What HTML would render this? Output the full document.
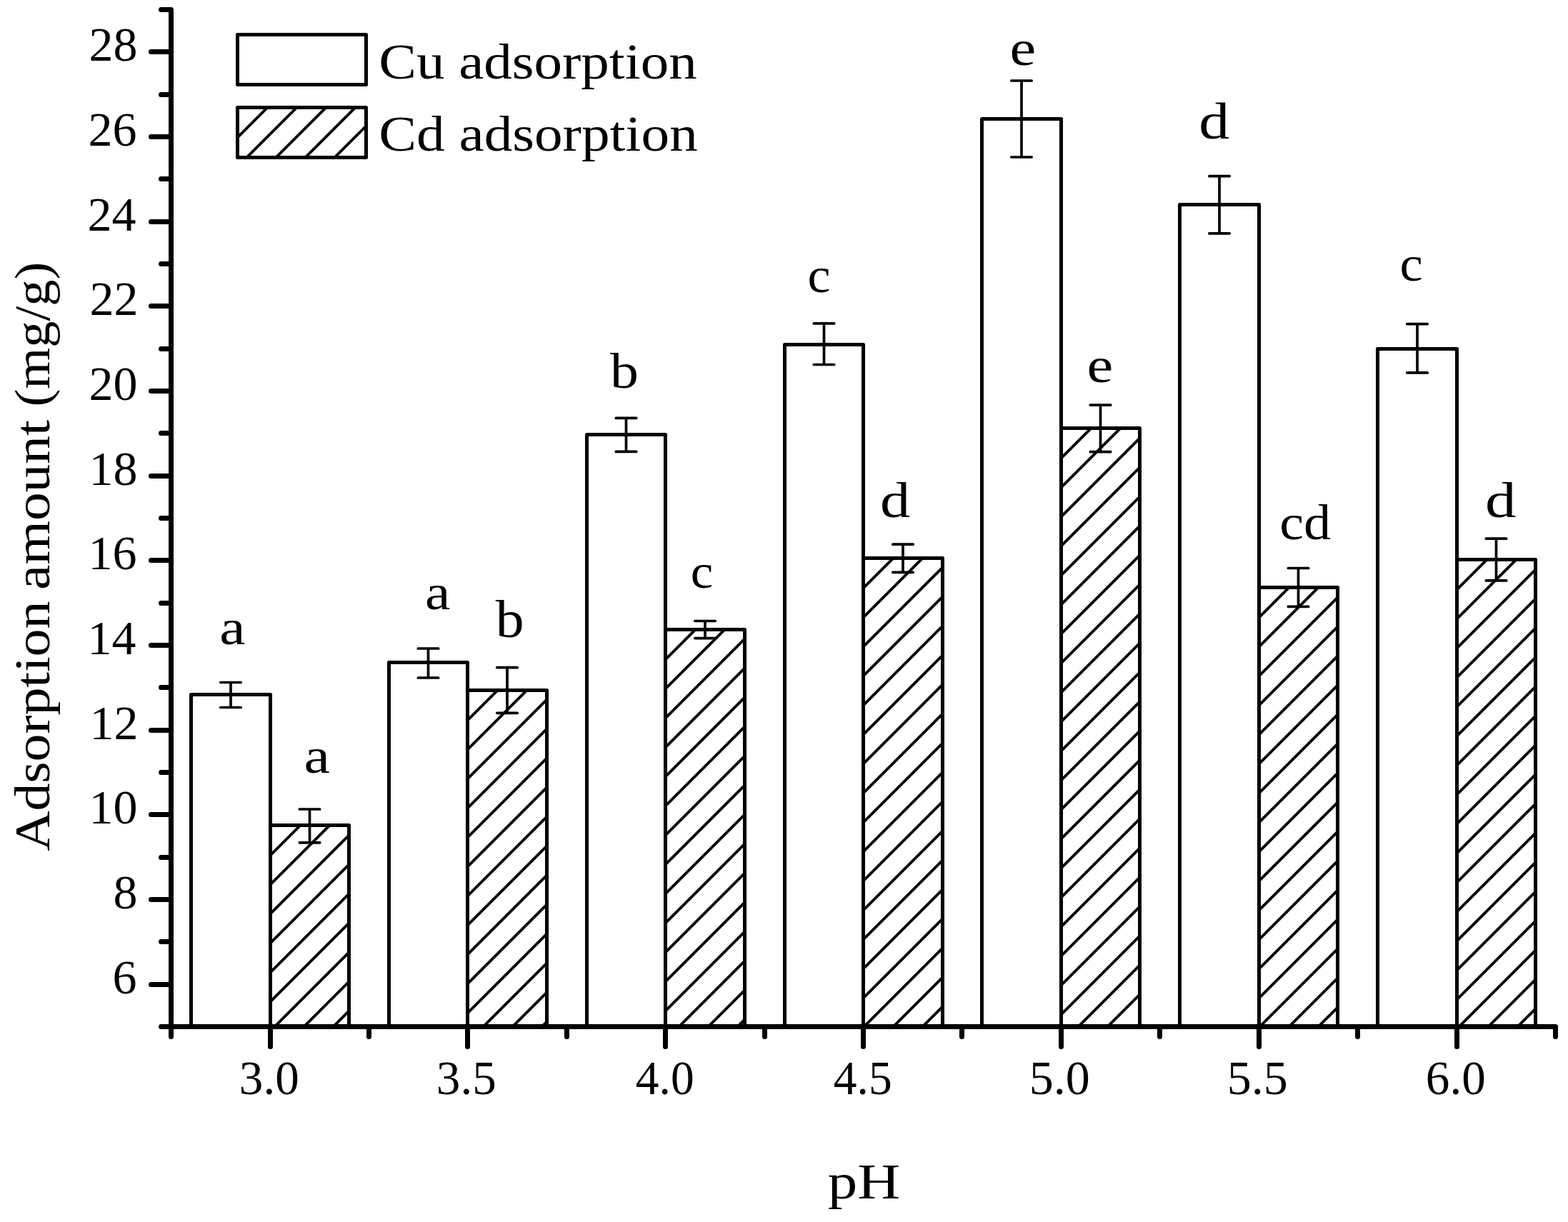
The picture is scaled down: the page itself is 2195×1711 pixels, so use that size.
<!DOCTYPE html>
<html lang="en">
<head>
<meta charset="utf-8">
<title>Cu and Cd adsorption amount versus pH</title>
<style>
html,body{margin:0;padding:0;background:#fff;}
body{width:2195px;height:1711px;overflow:hidden;}
svg{display:block;}
text{font-family:"Liberation Serif","DejaVu Serif",serif;fill:#000;}
.ax{stroke:#000;stroke-width:7;stroke-linecap:round;fill:none;}
.bar{stroke:#000;stroke-width:5;stroke-linejoin:round;}
.cu{fill:#fff;}
.hat{stroke:#000;stroke-width:3.9;fill:none;}
.err{stroke:#000;stroke-width:3.7;stroke-linecap:round;fill:none;}
</style>
</head>
<body>
<svg width="2195" height="1711" viewBox="0 0 2195 1711">
<rect x="0" y="0" width="2195" height="1711" fill="#fff"/>
<defs>
<clipPath id="h0"><rect x="378.50" y="1155.50" width="110.00" height="282.00"/></clipPath>
<clipPath id="h1"><rect x="654.50" y="966.50" width="111.00" height="471.00"/></clipPath>
<clipPath id="h2"><rect x="931.50" y="881.50" width="111.00" height="556.00"/></clipPath>
<clipPath id="h3"><rect x="1208.50" y="781.50" width="111.00" height="656.00"/></clipPath>
<clipPath id="h4"><rect x="1485.50" y="599.50" width="110.00" height="838.00"/></clipPath>
<clipPath id="h5"><rect x="1762.50" y="822.50" width="110.00" height="615.00"/></clipPath>
<clipPath id="h6"><rect x="2039.50" y="783.50" width="110.00" height="654.00"/></clipPath>
<clipPath id="h7"><rect x="332.50" y="150.50" width="180.00" height="70.00"/></clipPath>
</defs>
<g class="cu-bars">
<rect class="bar cu" x="267.50" y="972.50" width="111.00" height="465.00"/>
<rect class="bar cu" x="544.50" y="927.50" width="110.00" height="510.00"/>
<rect class="bar cu" x="821.50" y="608.50" width="110.00" height="829.00"/>
<rect class="bar cu" x="1098.50" y="482.50" width="110.00" height="955.00"/>
<rect class="bar cu" x="1374.50" y="166.50" width="111.00" height="1271.00"/>
<rect class="bar cu" x="1651.50" y="286.50" width="111.00" height="1151.00"/>
<rect class="bar cu" x="1928.50" y="488.50" width="111.00" height="949.00"/>
</g>
<g class="hat">
<path clip-path="url(#h0)" d="M372.50 1162.50L494.50 1040.50M372.50 1203.50L494.50 1081.50M372.50 1244.50L494.50 1122.50M372.50 1285.50L494.50 1163.50M372.50 1326.50L494.50 1204.50M372.50 1367.50L494.50 1245.50M372.50 1408.50L494.50 1286.50M372.50 1449.50L494.50 1327.50M372.50 1490.50L494.50 1368.50M372.50 1531.50L494.50 1409.50"/>
<path clip-path="url(#h1)" d="M648.50 973.50L771.50 850.50M648.50 1014.50L771.50 891.50M648.50 1055.50L771.50 932.50M648.50 1096.50L771.50 973.50M648.50 1137.50L771.50 1014.50M648.50 1178.50L771.50 1055.50M648.50 1219.50L771.50 1096.50M648.50 1260.50L771.50 1137.50M648.50 1301.50L771.50 1178.50M648.50 1342.50L771.50 1219.50M648.50 1383.50L771.50 1260.50M648.50 1424.50L771.50 1301.50M648.50 1465.50L771.50 1342.50M648.50 1506.50L771.50 1383.50M648.50 1547.50L771.50 1424.50"/>
<path clip-path="url(#h2)" d="M925.50 888.50L1048.50 765.50M925.50 929.50L1048.50 806.50M925.50 970.50L1048.50 847.50M925.50 1011.50L1048.50 888.50M925.50 1052.50L1048.50 929.50M925.50 1093.50L1048.50 970.50M925.50 1134.50L1048.50 1011.50M925.50 1175.50L1048.50 1052.50M925.50 1216.50L1048.50 1093.50M925.50 1257.50L1048.50 1134.50M925.50 1298.50L1048.50 1175.50M925.50 1339.50L1048.50 1216.50M925.50 1380.50L1048.50 1257.50M925.50 1421.50L1048.50 1298.50M925.50 1462.50L1048.50 1339.50M925.50 1503.50L1048.50 1380.50M925.50 1544.50L1048.50 1421.50"/>
<path clip-path="url(#h3)" d="M1202.50 788.50L1325.50 665.50M1202.50 829.50L1325.50 706.50M1202.50 870.50L1325.50 747.50M1202.50 911.50L1325.50 788.50M1202.50 952.50L1325.50 829.50M1202.50 993.50L1325.50 870.50M1202.50 1034.50L1325.50 911.50M1202.50 1075.50L1325.50 952.50M1202.50 1116.50L1325.50 993.50M1202.50 1157.50L1325.50 1034.50M1202.50 1198.50L1325.50 1075.50M1202.50 1239.50L1325.50 1116.50M1202.50 1280.50L1325.50 1157.50M1202.50 1321.50L1325.50 1198.50M1202.50 1362.50L1325.50 1239.50M1202.50 1403.50L1325.50 1280.50M1202.50 1444.50L1325.50 1321.50M1202.50 1485.50L1325.50 1362.50M1202.50 1526.50L1325.50 1403.50"/>
<path clip-path="url(#h4)" d="M1479.50 606.50L1601.50 484.50M1479.50 647.50L1601.50 525.50M1479.50 688.50L1601.50 566.50M1479.50 729.50L1601.50 607.50M1479.50 770.50L1601.50 648.50M1479.50 811.50L1601.50 689.50M1479.50 852.50L1601.50 730.50M1479.50 893.50L1601.50 771.50M1479.50 934.50L1601.50 812.50M1479.50 975.50L1601.50 853.50M1479.50 1016.50L1601.50 894.50M1479.50 1057.50L1601.50 935.50M1479.50 1098.50L1601.50 976.50M1479.50 1139.50L1601.50 1017.50M1479.50 1180.50L1601.50 1058.50M1479.50 1221.50L1601.50 1099.50M1479.50 1262.50L1601.50 1140.50M1479.50 1303.50L1601.50 1181.50M1479.50 1344.50L1601.50 1222.50M1479.50 1385.50L1601.50 1263.50M1479.50 1426.50L1601.50 1304.50M1479.50 1467.50L1601.50 1345.50M1479.50 1508.50L1601.50 1386.50M1479.50 1549.50L1601.50 1427.50"/>
<path clip-path="url(#h5)" d="M1756.50 829.50L1878.50 707.50M1756.50 870.50L1878.50 748.50M1756.50 911.50L1878.50 789.50M1756.50 952.50L1878.50 830.50M1756.50 993.50L1878.50 871.50M1756.50 1034.50L1878.50 912.50M1756.50 1075.50L1878.50 953.50M1756.50 1116.50L1878.50 994.50M1756.50 1157.50L1878.50 1035.50M1756.50 1198.50L1878.50 1076.50M1756.50 1239.50L1878.50 1117.50M1756.50 1280.50L1878.50 1158.50M1756.50 1321.50L1878.50 1199.50M1756.50 1362.50L1878.50 1240.50M1756.50 1403.50L1878.50 1281.50M1756.50 1444.50L1878.50 1322.50M1756.50 1485.50L1878.50 1363.50M1756.50 1526.50L1878.50 1404.50"/>
<path clip-path="url(#h6)" d="M2033.50 790.50L2155.50 668.50M2033.50 831.50L2155.50 709.50M2033.50 872.50L2155.50 750.50M2033.50 913.50L2155.50 791.50M2033.50 954.50L2155.50 832.50M2033.50 995.50L2155.50 873.50M2033.50 1036.50L2155.50 914.50M2033.50 1077.50L2155.50 955.50M2033.50 1118.50L2155.50 996.50M2033.50 1159.50L2155.50 1037.50M2033.50 1200.50L2155.50 1078.50M2033.50 1241.50L2155.50 1119.50M2033.50 1282.50L2155.50 1160.50M2033.50 1323.50L2155.50 1201.50M2033.50 1364.50L2155.50 1242.50M2033.50 1405.50L2155.50 1283.50M2033.50 1446.50L2155.50 1324.50M2033.50 1487.50L2155.50 1365.50M2033.50 1528.50L2155.50 1406.50"/>
<path clip-path="url(#h7)" d="M326.50 157.40L518.50 -34.60M326.50 198.40L518.50 6.40M326.50 239.40L518.50 47.40M326.50 280.40L518.50 88.40M326.50 321.40L518.50 129.40M326.50 362.40L518.50 170.40M326.50 403.40L518.50 211.40"/>
</g>
<g class="cd-bars">
<rect class="bar" fill="none" x="378.50" y="1155.50" width="110.00" height="282.00"/>
<rect class="bar" fill="none" x="654.50" y="966.50" width="111.00" height="471.00"/>
<rect class="bar" fill="none" x="931.50" y="881.50" width="111.00" height="556.00"/>
<rect class="bar" fill="none" x="1208.50" y="781.50" width="111.00" height="656.00"/>
<rect class="bar" fill="none" x="1485.50" y="599.50" width="110.00" height="838.00"/>
<rect class="bar" fill="none" x="1762.50" y="822.50" width="110.00" height="615.00"/>
<rect class="bar" fill="none" x="2039.50" y="783.50" width="110.00" height="654.00"/>
</g>
<g class="legend">
<rect class="bar" fill="none" x="332.5" y="48.5" width="180.0" height="70.00"/>
<rect class="bar" fill="none" x="332.5" y="150.5" width="180.0" height="70.00"/>
<text transform="translate(530.31 109.90) scale(1.1286 1.0000)" font-size="70">Cu adsorption</text>
<text transform="translate(530.31 210.60) scale(1.1312 1.0000)" font-size="70">Cd adsorption</text>
</g>
<g class="err">
<path d="M323.00 955.50V990.50M308.80 955.50H337.20M308.80 990.50H337.20M433.50 1133.00V1179.80M419.30 1133.00H447.70M419.30 1179.80H447.70M599.50 908.00V949.00M585.30 908.00H613.70M585.30 949.00H613.70M710.00 934.70V998.30M695.80 934.70H724.20M695.80 998.30H724.20M876.50 585.40V632.40M862.30 585.40H890.70M862.30 632.40H890.70M987.00 869.50V893.60M972.80 869.50H1001.20M972.80 893.60H1001.20M1153.50 452.90V510.50M1139.30 452.90H1167.70M1139.30 510.50H1167.70M1264.00 762.20V801.30M1249.80 762.20H1278.20M1249.80 801.30H1278.20M1430.00 113.00V220.00M1415.80 113.00H1444.20M1415.80 220.00H1444.20M1540.50 567.20V632.70M1526.30 567.20H1554.70M1526.30 632.70H1554.70M1707.00 246.60V326.80M1692.80 246.60H1721.20M1692.80 326.80H1721.20M1817.50 795.50V849.30M1803.30 795.50H1831.70M1803.30 849.30H1831.70M1984.00 453.60V521.90M1969.80 453.60H1998.20M1969.80 521.90H1998.20M2094.50 754.20V812.90M2080.30 754.20H2108.70M2080.30 812.90H2108.70"/>
</g>
<path class="ax" d="M239.5 13.5V1451.5M225.5 1437.5H2177.5M239.5 1437.50H225.50M239.5 1378.50H211.50M239.5 1318.50H225.50M239.5 1259.50H211.50M239.5 1200.50H225.50M239.5 1140.50H211.50M239.5 1081.50H225.50M239.5 1022.50H211.50M239.5 962.50H225.50M239.5 903.50H211.50M239.5 844.50H225.50M239.5 784.50H211.50M239.5 725.50H225.50M239.5 666.50H211.50M239.5 606.50H225.50M239.5 547.50H211.50M239.5 488.50H225.50M239.5 428.50H211.50M239.5 369.50H225.50M239.5 310.50H211.50M239.5 250.50H225.50M239.5 191.50H211.50M239.5 132.50H225.50M239.5 72.50H211.50M239.5 13.50H225.50M239.50 1437.5V1451.50M378.50 1437.5V1465.50M516.50 1437.5V1451.50M654.50 1437.5V1465.50M793.50 1437.5V1451.50M931.50 1437.5V1465.50M1070.50 1437.5V1451.50M1208.50 1437.5V1465.50M1346.50 1437.5V1451.50M1485.50 1437.5V1465.50M1623.50 1437.5V1451.50M1762.50 1437.5V1465.50M1900.50 1437.5V1451.50M2039.50 1437.5V1465.50M2177.50 1437.5V1451.50"/>
<g class="ticklabels">
<text x="157.60" y="1390.50" font-size="68">6</text>
<text x="158.60" y="1271.50" font-size="68">8</text>
<text x="124.60" y="1152.50" font-size="68">10</text>
<text x="125.60" y="1034.50" font-size="68">12</text>
<text x="122.60" y="915.50" font-size="68">14</text>
<text x="123.60" y="796.50" font-size="68">16</text>
<text x="124.60" y="678.50" font-size="68">18</text>
<text x="124.60" y="559.50" font-size="68">20</text>
<text x="125.60" y="440.50" font-size="68">22</text>
<text x="122.60" y="322.50" font-size="68">24</text>
<text x="123.60" y="203.50" font-size="68">26</text>
<text x="124.60" y="84.50" font-size="68">28</text>
<text transform="translate(334.84 1531.60) scale(0.9873 1.0000)" font-size="68">3.0</text>
<text transform="translate(610.84 1531.60) scale(0.9873 1.0000)" font-size="68">3.5</text>
<text transform="translate(889.84 1531.60) scale(0.9630 1.0000)" font-size="68">4.0</text>
<text transform="translate(1166.84 1531.60) scale(0.9630 1.0000)" font-size="68">4.5</text>
<text transform="translate(1440.80 1531.60) scale(1.0000 1.0000)" font-size="68">5.0</text>
<text transform="translate(1717.80 1531.60) scale(1.0000 1.0000)" font-size="68">5.5</text>
<text transform="translate(1995.84 1531.60) scale(0.9873 1.0000)" font-size="68">6.0</text>
</g>
<g class="letters">
<text transform="translate(307.20 902.00) scale(1.1667 1.0000)" font-size="70">a</text>
<text transform="translate(425.59 1082.00) scale(1.1704 0.9939)" font-size="70">a</text>
<text transform="translate(595.09 853.10) scale(1.1370 1.0091)" font-size="70">a</text>
<text transform="translate(693.80 892.10) scale(1.1406 1.0469)" font-size="70">b</text>
<text transform="translate(854.00 542.80) scale(1.1406 1.0082)" font-size="70">b</text>
<text transform="translate(966.75 823.00) scale(1.0154 0.9788)" font-size="70">c</text>
<text transform="translate(1130.51 408.90) scale(1.0308 1.0000)" font-size="70">c</text>
<text transform="translate(1232.09 724.00) scale(1.2032 1.0000)" font-size="70">d</text>
<text transform="translate(1413.46 91.00) scale(1.1808 0.9939)" font-size="70">e</text>
<text transform="translate(1521.46 534.80) scale(1.1808 1.0121)" font-size="70">e</text>
<text transform="translate(1678.32 194.00) scale(1.2258 1.0306)" font-size="70">d</text>
<text transform="translate(1791.23 754.50) scale(1.0887 1.0020)" font-size="70">cd</text>
<text transform="translate(1959.48 393.10) scale(1.0385 1.0091)" font-size="70">c</text>
<text transform="translate(2079.07 723.80) scale(1.2419 1.0020)" font-size="70">d</text>
</g>
<text transform="translate(1158.71 1677.90) scale(1.1854 1.0000)" font-size="70">pH</text>
<g class="ytitle">
<text transform="translate(68.8 1191.81) rotate(-90) scale(1.1121 1)" font-size="70">Adsorption</text>
<text transform="translate(68.8 826.00) rotate(-90) scale(1.1338 1)" font-size="70">amount</text>
<text transform="translate(68.8 569.50) rotate(-90) scale(1.0652 1)" font-size="70">(mg/g)</text>
</g>
</svg>
</body>
</html>
